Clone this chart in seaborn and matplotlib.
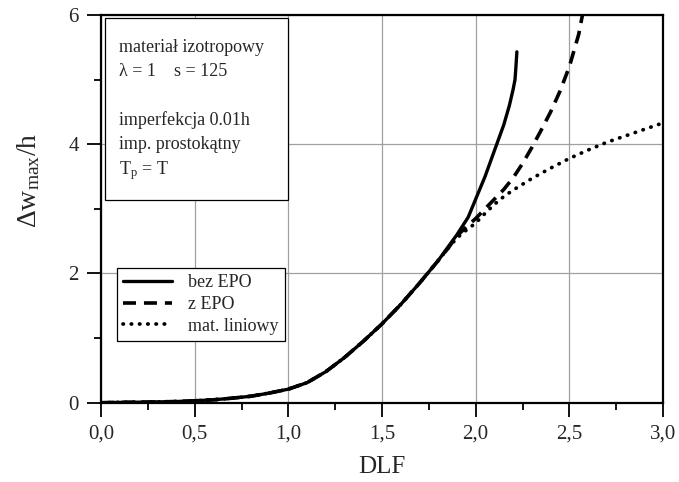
import matplotlib
matplotlib.use("Agg")
import matplotlib.pyplot as plt
from matplotlib.patches import Rectangle
from matplotlib.ticker import MultipleLocator, FixedLocator, FixedFormatter
import pandas as pd
import seaborn as sns

# Dynamic load factor (DLF) vs. maximum deflection increment
dlf_bez = [0.0, 0.1, 0.2, 0.3, 0.4, 0.5, 0.6, 0.7, 0.8, 0.9, 1.0, 1.1, 1.2, 1.3, 1.4,
           1.5, 1.6, 1.7, 1.8, 1.9, 1.96, 2.0, 2.05, 2.1, 2.15, 2.18, 2.2, 2.21, 2.215, 2.22]
w_bez = [0.0, 0.005, 0.008, 0.012, 0.018, 0.03, 0.045, 0.07, 0.10, 0.15, 0.21, 0.31, 0.48,
         0.70, 0.95, 1.22, 1.52, 1.85, 2.2, 2.6, 2.87, 3.15, 3.5, 3.9, 4.3, 4.6, 4.85, 5.0,
         5.2, 5.43]

dlf_z = [0.0, 0.1, 0.2, 0.3, 0.4, 0.5, 0.6, 0.7, 0.8, 0.9, 1.0, 1.1, 1.2, 1.3, 1.4,
         1.5, 1.6, 1.7, 1.8, 1.85, 1.9, 1.95, 2.0, 2.05, 2.1, 2.15, 2.2, 2.25, 2.3, 2.35,
         2.4, 2.45, 2.5, 2.55, 2.57]
w_z = [0.0, 0.005, 0.008, 0.012, 0.018, 0.03, 0.045, 0.07, 0.10, 0.15, 0.21, 0.31, 0.48,
       0.70, 0.95, 1.22, 1.52, 1.85, 2.2, 2.38, 2.58, 2.72, 2.85, 3.0, 3.15, 3.3, 3.48,
       3.7, 3.95, 4.22, 4.5, 4.82, 5.2, 5.7, 6.0]

dlf_lin = [0.0, 0.1, 0.2, 0.3, 0.4, 0.5, 0.6, 0.7, 0.8, 0.9, 1.0, 1.1, 1.2, 1.3, 1.4,
           1.5, 1.6, 1.7, 1.8, 1.85, 1.9, 1.95, 2.0, 2.05, 2.1, 2.15, 2.2, 2.3, 2.4, 2.5,
           2.6, 2.7, 2.8, 2.9, 3.0]
w_lin = [0.0, 0.005, 0.008, 0.012, 0.018, 0.03, 0.045, 0.07, 0.10, 0.15, 0.21, 0.31, 0.48,
         0.70, 0.95, 1.22, 1.52, 1.85, 2.2, 2.38, 2.55, 2.67, 2.78, 2.93, 3.07, 3.19, 3.29,
         3.47, 3.63, 3.78, 3.91, 4.03, 4.13, 4.23, 4.33]

series_names = ["bez EPO", "z EPO", "mat. liniowy"]

x_ticks = [0.0, 0.5, 1.0, 1.5, 2.0, 2.5, 3.0]
x_tick_labels = ["0,0", "0,5", "1,0", "1,5", "2,0", "2,5", "3,0"]
y_ticks = [0, 2, 4, 6]
y_tick_labels = ["0", "2", "4", "6"]

info_lines = ["materiał izotropowy", "λ = 1    s = 125", "imperfekcja 0.01h",
              "imp. prostokątny", r"T$_{\mathrm{p}}$ = T"]

sns.set_theme(style="white")
plt.rcParams["font.family"] = ["Liberation Serif", "DejaVu Serif"]
plt.rcParams["mathtext.fontset"] = "custom"
plt.rcParams["mathtext.rm"] = "Liberation Serif"
plt.rcParams["mathtext.it"] = "Liberation Serif:italic"

df = pd.concat([
    pd.DataFrame({"DLF": dlf_bez, "w": w_bez, "seria": series_names[0]}),
    pd.DataFrame({"DLF": dlf_z, "w": w_z, "seria": series_names[1]}),
    pd.DataFrame({"DLF": dlf_lin, "w": w_lin, "seria": series_names[2]}),
], ignore_index=True)

fig = plt.figure(figsize=(6.79, 4.82), dpi=100)
ax = fig.add_axes([101 / 679, 1 - 402.7 / 482, 562 / 679, 387.7 / 482])

styles = {
    series_names[0]: dict(linestyle="-", linewidth=2.4),
    series_names[1]: dict(linestyle=(0, (3.6, 2.2)), linewidth=2.6),
    series_names[2]: dict(linestyle=(0, (0.1, 2.1)), linewidth=2.7, dash_capstyle="round"),
}
for name in series_names:
    sub = df[df["seria"] == name]
    sns.lineplot(data=sub, x="DLF", y="w", ax=ax, color="black", sort=False,
                 estimator=None, label=name, zorder=3, **styles[name])

ax.set_xlim(0, 3.0)
ax.set_ylim(0, 6)
ax.xaxis.set_major_locator(FixedLocator(x_ticks))
ax.xaxis.set_major_formatter(FixedFormatter(x_tick_labels))
ax.xaxis.set_minor_locator(MultipleLocator(0.25))
ax.yaxis.set_major_locator(FixedLocator(y_ticks))
ax.yaxis.set_major_formatter(FixedFormatter(y_tick_labels))
ax.yaxis.set_minor_locator(MultipleLocator(1))

ax.tick_params(which="major", direction="out", length=10, width=1.3, color="black",
               labelsize=15, pad=6, bottom=True, left=True)
ax.tick_params(which="minor", direction="out", length=5, width=1.3, color="black",
               bottom=True, left=True)
ax.grid(True, which="major", color="#a0a0a0", linewidth=0.9)
ax.set_axisbelow(True)
for sp in ax.spines.values():
    sp.set_color("black")
    sp.set_linewidth(1.6)
    sp.set_visible(True)

ax.set_xlabel("DLF", fontsize=18, labelpad=9)
ax.set_ylabel(r"$\mathrm{\Delta w_{max}/h}$", fontsize=20)
ax.yaxis.set_label_coords(-0.105, 0.574)

# parameter box
box = Rectangle((0.007, 0.523), 0.326, 0.469, transform=ax.transAxes,
                facecolor="white", edgecolor="black", linewidth=0.9, zorder=4)
ax.add_patch(box)
for txt, yy in zip(info_lines, [0.915, 0.853, 0.729, 0.665, 0.600]):
    ax.text(0.032, yy, txt, transform=ax.transAxes, fontsize=13, va="center",
            ha="left", zorder=5)

leg = ax.legend(loc="upper left", bbox_to_anchor=(0.028, 0.347), borderaxespad=0,
                fontsize=13, frameon=True, fancybox=False, framealpha=1,
                edgecolor="black", handlelength=2.7, handletextpad=0.9,
                labelspacing=0.25, borderpad=0.35)
leg.get_frame().set_linewidth(0.9)
leg.set_zorder(6)

fig.savefig("out.png", dpi=100, facecolor="white")
